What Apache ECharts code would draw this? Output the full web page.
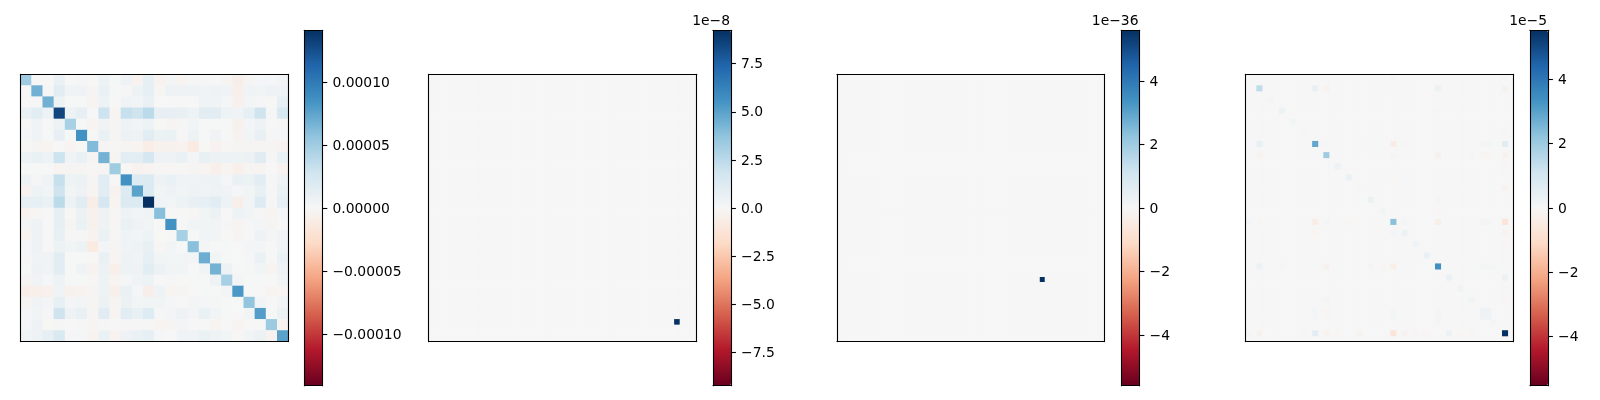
<!DOCTYPE html>
<html><head><meta charset="utf-8">
<style>html,body{margin:0;padding:0;background:#fff}#c{width:1600px;height:400px}</style>
<script src="https://cdn.jsdelivr.net/npm/echarts@6/dist/echarts.min.js"></script>
</head><body><div id="c"></div>
<script>
// RdBu_r colour stops
const rdbu = ['#67001f','#b2182b','#d6604d','#f4a582','#fddbc7','#f6f6f6','#d1e5f0','#92c5de','#4393c3','#2166ac','#053061'];

// Panel A: values in units of 1e-5, 24 x 24, symmetric
const aDiag = [5.1,6.8,6.8,13.0,4.6,8.6,6.2,6.7,5.0,8.6,7.6,14.1,6.0,8.6,4.7,5.9,7.0,6.7,4.7,8.2,5.6,7.9,5.2,7.6];
const aUpper = [
 [0,0,.9,0,.15,-.05,.7,.05,.6,-.4,1.2,-.4,.3,-.3,.2,.1,.05,-.2,-.8,-.2,.2,.2,.4],
 [.1,1.6,.5,.5,-.2,.9,.05,.1,.7,1.2,-.1,.6,.6,.6,.5,.6,.5,-.7,.5,.4,.6,.6],
 [.7,.05,.05,-.3,.7,0,.5,.4,.9,0,0,0,0,.5,.5,.2,-.6,.3,.1,-.05,1.2],
 [.7,1.1,0,3,-.3,3.3,2.9,3.8,1.1,1.1,1,.7,1.6,1.6,.7,.5,1.2,2.9,.1,2.2],
 [.05,-.3,.5,-.2,.7,.4,.7,-.05,-.2,.1,.4,.05,.05,.05,-.5,.3,.6,0,.1],
 [-.05,.9,-.2,.8,.6,1.6,.8,.9,.1,.7,.05,.5,.05,-.4,.4,1,.1,.2],
 [-.2,-.1,-.2,-.3,-.9,-.5,-.5,-.4,-1.2,-.05,-.4,-.15,-.2,-.2,-.2,-.2,-.4],
 [-.2,1.6,1.5,2.5,.6,.6,.9,.3,1,.8,.7,.7,.8,1.7,.1,.9],
 [-.05,-.4,-.3,-.1,-.1,-.1,-.2,-.3,-.7,-.3,-.7,-.2,-.3,0,-.4],
 [1.8,2,.6,.9,.5,.5,.6,.7,.2,.9,.8,1.5,.1,.6],
 [2,.4,.6,.4,.7,.5,.6,.5,.2,.4,1,.1,.9],
 [.5,.4,.7,1,1.2,1.5,.7,-.8,.4,1.9,.1,1.2],
 [0,-.05,-.1,.4,.8,0,.7,.4,.1,-.3,.2],
 [0,.4,.4,.4,.1,-.3,.2,.3,-.2,0],
 [.05,.4,.4,-.05,-.2,0,.6,.3,.5],
 [.3,0,.05,0,.3,.3,0,.5],
 [.4,.05,.05,.2,.9,0,.9],
 [.6,.05,.1,.4,-.3,.6],
 [.3,.05,.05,0,.4],
 [.05,0,-.3,-.1],
 [.4,0,.4],
 [.05,.8],
 [-.4]
];

// Panel B: units of 1e-8, [row, col, value]
const bCells = [[44,44,9.236]];
// Panel C: units of 1e-36
const cCells = [[41,41,5.6]];
// Panel D: units of 1e-5, upper triangle [row, col, value]
const dCells = [
 [2,2,1.4],[4,4,.1],[6,6,.3],[8,8,.15],[10,10,.05],[12,12,2.9],[14,14,2.0],[16,16,.3],[18,18,.35],[20,20,.05],
 [22,22,.3],[24,24,.15],[26,26,2.3],[28,28,.3],[30,30,.2],[32,32,.35],[34,34,3.4],[36,36,.35],[38,38,.2],[40,40,.15],
 [42,42,.25],[42,43,.25],[43,43,.25],[44,44,.1],[46,46,5.53],
 [0,26,.1],[0,46,.1],[2,12,.4],[2,14,-.15],[2,26,-.08],[2,34,.3],[2,46,-.2],[6,34,-.05],[10,14,.03],[10,46,.05],
 [12,14,.05],[12,20,-.05],[12,26,-.4],[12,28,-.1],[12,34,.03],[12,42,.1],[12,43,.1],[12,46,.6],
 [14,26,.1],[14,34,-.2],[14,40,.1],[14,42,-.1],[14,43,-.1],[14,46,-.15],[16,34,.03],[16,46,-.1],[18,26,-.1],[20,46,-.15],
 [22,34,.1],[22,46,.03],[24,34,-.08],[26,28,.1],[26,32,.03],[26,34,-.3],[26,42,.1],[26,43,.1],[26,46,-.7],
 [28,46,-.15],[30,46,-.08],[32,34,.03],[32,46,-.08],[34,42,.1],[34,43,.1],[34,44,.1],[36,46,.3],[38,46,-.1],[40,46,-.08]
];

// Colour-bar ranges and ticks (in each panel's unit)
const ranges = [14.1, 9.236, 5.6, 5.53];
const ticksA = [-10,-5,0,5,10];
const ticksB = [-7.5,-5,-2.5,0,2.5,5,7.5];
const ticksC = [-4,-2,0,2,4];
const ticksD = [-4,-2,0,2,4];
const offsets = ['', '1e\u22128', '1e\u221236', '1e\u22125'];
const sizes = [24,48,54,48];

// Layout
const panelLeft = [20.4,428.7,837,1245.4];
const panelWidth = [268,268,267.4,268];
const panelTop = 74.4, panelH = 267.2;
const barLeft = [304.4,713,1121.5,1530], barTop = 30.3, barW = 18, barH = 355.4;

function dense(n, cells, symmetric, nonZeroLast){
  const m = Array.from({length:n},()=>Array(n).fill(0));
  cells.forEach(([r,c,v])=>{ m[r][c]=v; if(symmetric) m[c][r]=v; });
  const out=[];
  for(let r=0;r<n;r++)for(let c=0;c<n;c++)out.push([c,r,m[r][c]]);
  return nonZeroLast ? out.filter(d=>d[2]===0).concat(out.filter(d=>d[2]!==0)) : out;
}
const aCells=[];
aDiag.forEach((v,i)=>aCells.push([i,i,v]));
aUpper.forEach((row,i)=>row.forEach((v,j)=>aCells.push([i,i+1+j,v])));
const panelData=[dense(24,aCells,true,false),dense(48,bCells,false,false),dense(54,cCells,false,false),dense(48,dCells,true,true)];

const fmt=[
 v=>(v*1e-5).toFixed(5).replace('-','\u2212').replace(/^\u22120\.00000$/,'0.00000'),
 v=>v.toFixed(1).replace('-','\u2212'),
 v=>String(v).replace('-','\u2212'),
 v=>String(v).replace('-','\u2212')
];
const tickSets=[ticksA,ticksB,ticksC,ticksD];
const black='#000';
const line={show:true,onZero:false,lineStyle:{color:black,width:1.1}};
const grids=[],xAxes=[],yAxes=[],series=[],vms=[];
for(let p=0;p<4;p++){
  const n=sizes[p],cats=Array.from({length:n},(_,i)=>i);
  const g=grids.length;
  grids.push({left:panelLeft[p],top:panelTop,width:panelWidth[p],height:panelH,containLabel:false});
  const xi=xAxes.length,yi=yAxes.length;
  ['bottom','top'].forEach(pos=>xAxes.push({type:'category',gridIndex:g,position:pos,data:cats,z:6,axisLine:line,axisTick:{show:false},axisLabel:{show:false},splitLine:{show:false}}));
  ['left','right'].forEach(pos=>yAxes.push({type:'category',gridIndex:g,position:pos,data:cats,inverse:true,z:6,axisLine:line,axisTick:{show:false},axisLabel:{show:false},splitLine:{show:false}}));
  series.push({type:'heatmap',xAxisIndex:xi,yAxisIndex:yi,data:panelData[p],progressive:0,silent:true,animation:false,emphasis:{disabled:true}});
  vms.push({type:'continuous',seriesIndex:series.length-1,min:-ranges[p],max:ranges[p],calculable:false,hoverLink:false,realtime:false,
    left:barLeft[p],top:barTop,itemWidth:barW,itemHeight:barH,padding:0,text:null,showLabel:false,orient:'vertical',
    inRange:{color:rdbu},textStyle:{color:'transparent'}});
  // colour-bar frame and ticks
  const gb=grids.length;
  grids.push({left:barLeft[p],top:barTop,width:barW,height:barH});
  ['bottom','top'].forEach(pos=>xAxes.push({type:'value',gridIndex:gb,position:pos,min:0,max:1,z:6,axisLine:line,axisTick:{show:false},axisLabel:{show:false},splitLine:{show:false}}));
  yAxes.push({type:'value',gridIndex:gb,position:'left',min:-ranges[p],max:ranges[p],z:6,axisLine:line,axisTick:{show:false},axisLabel:{show:false},splitLine:{show:false}});
  yAxes.push({type:'value',gridIndex:gb,position:'right',min:-ranges[p],max:ranges[p],z:6,axisLine:line,
    axisTick:{show:true,length:4.9,lineStyle:{color:black,width:1.1},customValues:tickSets[p]},
    axisLabel:{show:true,margin:10,customValues:tickSets[p],showMinLabel:true,showMaxLabel:true,hideOverlap:false,
      formatter:v=>'{t|'+fmt[p](v)+'}',
      rich:{t:{color:black,fontFamily:'DejaVu Sans',fontSize:13.9,padding:[2,0,0,0]}}},
    splitLine:{show:false},
    name:offsets[p],nameLocation:'end',nameGap:2,
    nameTextStyle:{color:black,fontFamily:'DejaVu Sans',fontSize:13.9,align:'right',verticalAlign:'bottom',padding:[0,1,0,0]}});
}
const chart=echarts.init(document.getElementById('c'),null,{renderer:'canvas'});
chart.setOption({animation:false,backgroundColor:'#fff',grid:grids,xAxis:xAxes,yAxis:yAxes,visualMap:vms,series});
</script></body></html>
